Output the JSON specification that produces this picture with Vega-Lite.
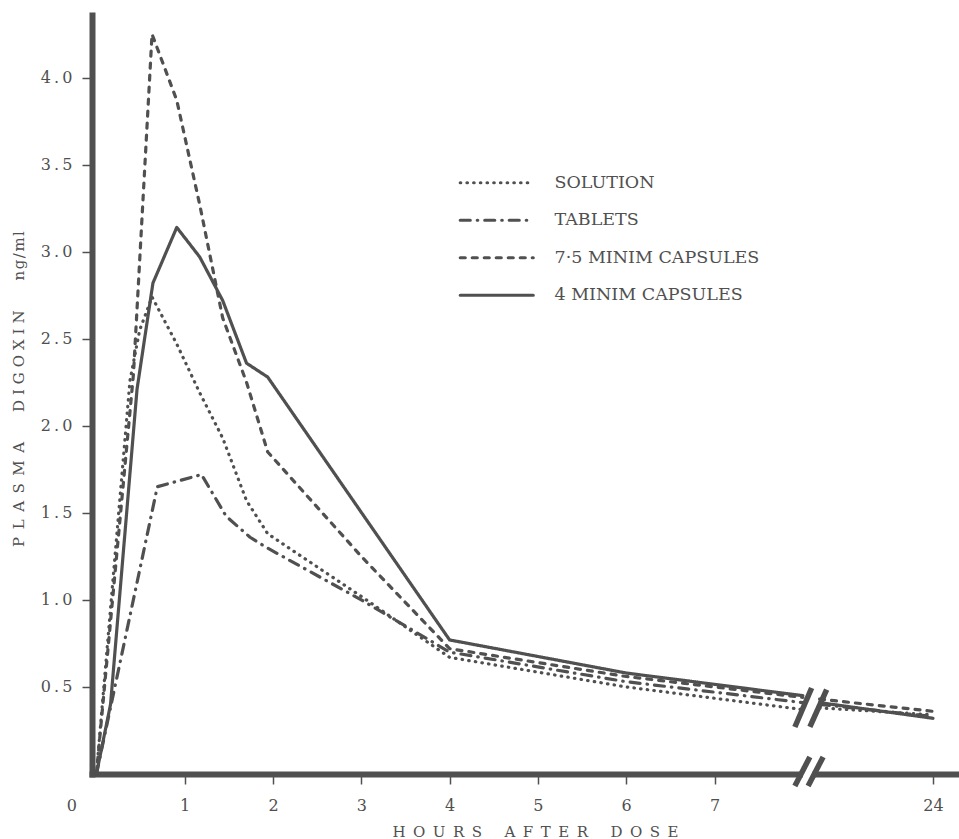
{
  "$schema": "https://vega.github.io/schema/vega-lite/v6.json",
  "width": 867,
  "height": 759,
  "autosize": {"type": "none"},
  "padding": {"left": 92, "top": 15, "right": 0, "bottom": 65},
  "background": "white",
  "config": {"view": {"stroke": null}, "font": "DejaVu Serif"},
  "datasets": {
    "curves": [
      {"series": "SOLUTION", "seg": "a", "hours": 0, "value": 0},
      {"series": "SOLUTION", "seg": "a", "hours": 0.38, "value": 2.26},
      {"series": "SOLUTION", "seg": "a", "hours": 0.49, "value": 2.55},
      {"series": "SOLUTION", "seg": "a", "hours": 0.63, "value": 2.74},
      {"series": "SOLUTION", "seg": "a", "hours": 0.91, "value": 2.47},
      {"series": "SOLUTION", "seg": "a", "hours": 1.17, "value": 2.19},
      {"series": "SOLUTION", "seg": "a", "hours": 1.43, "value": 1.93},
      {"series": "SOLUTION", "seg": "a", "hours": 1.7, "value": 1.57},
      {"series": "SOLUTION", "seg": "a", "hours": 1.94, "value": 1.38},
      {"series": "SOLUTION", "seg": "a", "hours": 3, "value": 1.02},
      {"series": "SOLUTION", "seg": "a", "hours": 4, "value": 0.67},
      {"series": "SOLUTION", "seg": "a", "hours": 6, "value": 0.5},
      {"series": "SOLUTION", "seg": "a", "hours": 8.0, "value": 0.37},
      {"series": "SOLUTION", "seg": "b", "hours": 8.19, "value": 0.38},
      {"series": "SOLUTION", "seg": "b", "hours": 24, "value": 0.34},
      {"series": "TABLETS", "seg": "a", "hours": 0, "value": 0},
      {"series": "TABLETS", "seg": "a", "hours": 0.69, "value": 1.65},
      {"series": "TABLETS", "seg": "a", "hours": 1.19, "value": 1.72},
      {"series": "TABLETS", "seg": "a", "hours": 1.47, "value": 1.48},
      {"series": "TABLETS", "seg": "a", "hours": 1.74, "value": 1.36},
      {"series": "TABLETS", "seg": "a", "hours": 1.93, "value": 1.3},
      {"series": "TABLETS", "seg": "a", "hours": 3, "value": 1.0},
      {"series": "TABLETS", "seg": "a", "hours": 4, "value": 0.7},
      {"series": "TABLETS", "seg": "a", "hours": 6, "value": 0.53},
      {"series": "TABLETS", "seg": "a", "hours": 8.0, "value": 0.41},
      {"series": "TABLETS", "seg": "b", "hours": 8.19, "value": 0.4},
      {"series": "TABLETS", "seg": "b", "hours": 24, "value": 0.33},
      {"series": "7·5 MINIM CAPSULES", "seg": "a", "hours": 0, "value": 0},
      {"series": "7·5 MINIM CAPSULES", "seg": "a", "hours": 0.42, "value": 2.3},
      {"series": "7·5 MINIM CAPSULES", "seg": "a", "hours": 0.63, "value": 4.25},
      {"series": "7·5 MINIM CAPSULES", "seg": "a", "hours": 0.91, "value": 3.87},
      {"series": "7·5 MINIM CAPSULES", "seg": "a", "hours": 1.17, "value": 3.27},
      {"series": "7·5 MINIM CAPSULES", "seg": "a", "hours": 1.43, "value": 2.62},
      {"series": "7·5 MINIM CAPSULES", "seg": "a", "hours": 1.7, "value": 2.25},
      {"series": "7·5 MINIM CAPSULES", "seg": "a", "hours": 1.94, "value": 1.85},
      {"series": "7·5 MINIM CAPSULES", "seg": "a", "hours": 3, "value": 1.25},
      {"series": "7·5 MINIM CAPSULES", "seg": "a", "hours": 4, "value": 0.72},
      {"series": "7·5 MINIM CAPSULES", "seg": "a", "hours": 6, "value": 0.56},
      {"series": "7·5 MINIM CAPSULES", "seg": "a", "hours": 8.0, "value": 0.44},
      {"series": "7·5 MINIM CAPSULES", "seg": "b", "hours": 8.19, "value": 0.43},
      {"series": "7·5 MINIM CAPSULES", "seg": "b", "hours": 24, "value": 0.36},
      {"series": "4 MINIM CAPSULES", "seg": "a", "hours": 0, "value": 0},
      {"series": "4 MINIM CAPSULES", "seg": "a", "hours": 0.16, "value": 0.4},
      {"series": "4 MINIM CAPSULES", "seg": "a", "hours": 0.46, "value": 2.21},
      {"series": "4 MINIM CAPSULES", "seg": "a", "hours": 0.64, "value": 2.82},
      {"series": "4 MINIM CAPSULES", "seg": "a", "hours": 0.91, "value": 3.14},
      {"series": "4 MINIM CAPSULES", "seg": "a", "hours": 1.17, "value": 2.97},
      {"series": "4 MINIM CAPSULES", "seg": "a", "hours": 1.43, "value": 2.72},
      {"series": "4 MINIM CAPSULES", "seg": "a", "hours": 1.7, "value": 2.36},
      {"series": "4 MINIM CAPSULES", "seg": "a", "hours": 1.94, "value": 2.28},
      {"series": "4 MINIM CAPSULES", "seg": "a", "hours": 4, "value": 0.77},
      {"series": "4 MINIM CAPSULES", "seg": "a", "hours": 6, "value": 0.58},
      {"series": "4 MINIM CAPSULES", "seg": "a", "hours": 8.0, "value": 0.45},
      {"series": "4 MINIM CAPSULES", "seg": "b", "hours": 8.19, "value": 0.41},
      {"series": "4 MINIM CAPSULES", "seg": "b", "hours": 24, "value": 0.32}
    ],
    "gap": [{"hours": 8.0, "hours2": 8.11, "value": 0}],
    "breaks": [
      {"hours": 7.91, "hours2": 8.08, "value": -0.069, "value2": 0.098},
      {"hours": 8.06, "hours2": 8.23, "value": -0.069, "value2": 0.098},
      {"hours": 7.91, "hours2": 8.1, "value": 0.27, "value2": 0.494},
      {"hours": 8.08, "hours2": 8.27, "value": 0.27, "value2": 0.485}
    ]
  },
  "encoding": {
    "x": {
      "field": "hours", "type": "quantitative",
      "scale": {"domain": [-0.05, 8.3, 24, 27.9], "range": [0, 737.3, 841, 867], "nice": false, "zero": false},
      "axis": {
        "values": [0, 1, 2, 3, 4, 5, 6, 7, 24],
        "title": "H\u2002O\u2002U\u2002R\u2002S\u2003\u2002A\u2002F\u2002T\u2002E\u2002R\u2003\u2002D\u2002O\u2002S\u2002E",
        "domain": true, "domainColor": "#505050", "domainWidth": 6, "domainCap": "square",
        "grid": false,
        "tickSize": 10, "tickWidth": 1.5, "tickColor": "#505050",
        "tickOpacity": {"condition": {"test": "datum.value == 0", "value": 0}, "value": 1},
        "labelFont": "DejaVu Serif", "labelFontSize": 16, "labelColor": "#505050",
        "labelPadding": 13, "labelFlush": false, "labelOverlap": false,
        "labelOffset": {"condition": {"test": "datum.value == 0", "value": -25}, "value": 0},
        "titleFont": "DejaVu Serif", "titleFontSize": 15, "titleFontWeight": "normal", "titleColor": "#505050",
        "titleX": 443, "titleY": 57, "titleBaseline": "middle", "titleAlign": "center"
      }
    },
    "y": {
      "field": "value", "type": "quantitative",
      "scale": {"domain": [0, 4.36], "nice": false, "zero": false},
      "axis": {
        "values": [0.5, 1, 1.5, 2, 2.5, 3, 3.5, 4],
        "labelExpr": "replace(format(datum.value, '.1f'), '.', '\u2009.\u2009')",
        "title": "P\u2002L\u2002A\u2002S\u2002M\u2002A\u2003\u2003D\u2004I\u2004G\u2004O\u2004X\u2004I\u2004N\u2003\u2003n\u200ag\u200a/\u200am\u200al",
        "domain": true, "domainColor": "#505050", "domainWidth": 6, "domainCap": "square",
        "grid": false,
        "tickSize": 10, "tickWidth": 1.5, "tickColor": "#505050",
        "labelFont": "DejaVu Serif", "labelFontSize": 16, "labelColor": "#505050", "labelPadding": 10,
        "titleFont": "DejaVu Serif", "titleFontSize": 15, "titleFontWeight": "normal", "titleColor": "#505050",
        "titleX": -73.5, "titleY": 373.5, "titleAngle": 270, "titleBaseline": "middle", "titleAlign": "center"
      }
    }
  },
  "layer": [
    {
      "data": {"name": "curves"},
      "mark": {"type": "line", "color": "#505050", "strokeWidth": 3.2, "strokeCap": "round", "strokeJoin": "round"},
      "encoding": {
        "strokeDash": {
          "field": "series", "type": "nominal",
          "scale": {
            "domain": ["SOLUTION", "TABLETS", "7·5 MINIM CAPSULES", "4 MINIM CAPSULES"],
            "range": [[0.5, 6.2], [10, 7, 0.5, 7], [5, 7], [1, 0]]
          },
          "legend": {
            "orient": "none", "legendX": 396, "legendY": 159, "title": null,
            "symbolType": "M-7.3,0H7.3", "symbolSize": 100, "symbolStrokeWidth": 3.2, "symbolStrokeColor": "#505050",
            "labelFont": "DejaVu Serif", "labelFontSize": 17.5, "labelColor": "#505050", "labelOffset": 49,
            "labelLimit": 0, "rowPadding": 18.5, "padding": 0,
            "encode": {"symbols": {"update": {"strokeCap": {"value": "round"}}}}
          }
        },
        "detail": {"field": "seg", "type": "nominal"}
      }
    },
    {
      "data": {"name": "gap"},
      "mark": {"type": "rule", "color": "white", "strokeWidth": 8},
      "encoding": {
        "x2": {"field": "hours2"}
      }
    },
    {
      "data": {"name": "breaks"},
      "mark": {"type": "rule", "color": "#505050", "strokeWidth": 5.5},
      "encoding": {
        "x2": {"field": "hours2"},
        "y2": {"field": "value2"}
      }
    }
  ]
}
